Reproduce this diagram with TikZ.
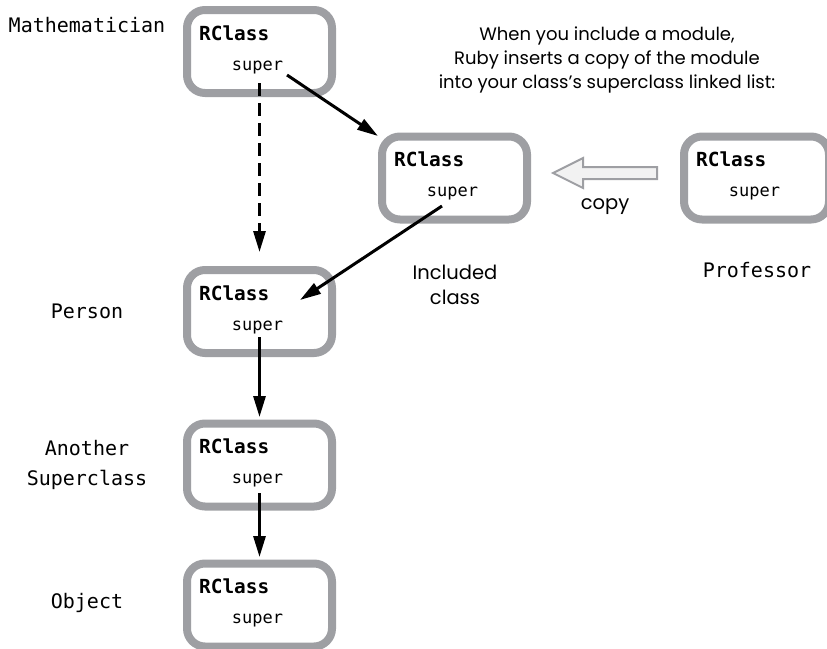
\documentclass[tikz,border=0pt]{standalone}
\usepackage{fontspec}
\setmonofont{DejaVu Sans Mono}
\newfontfamily\futura{Poppins}
\usepackage{tikz}
\usetikzlibrary{arrows.meta,calc}
\definecolor{boxgray}{RGB}{158,159,163}
\definecolor{arrowfill}{RGB}{242,242,242}
\tikzset{
  classbox/.style={draw=boxgray,line width=8pt,rounded corners=18pt,minimum width=145pt,minimum height=83pt,fill=white},
  rcname/.style={inner sep=0pt,font=\ttfamily\bfseries\fontsize{19.4}{22}\selectfont},
  rcsuper/.style={inner sep=0pt,font=\ttfamily\fontsize{17}{20}\selectfont},
  sidelabel/.style={inner sep=0pt,align=center,font=\ttfamily\fontsize{20}{30}\selectfont},
  note/.style={inner sep=0pt,align=center,font=\futura\fontsize{18}{24}\selectfont},
  bignote/.style={note,font=\futura\fontsize{19.5}{25}\selectfont},
  link/.style={line width=3pt,-{Triangle[length=21pt,width=12pt]}}
}
\begin{document}
\begin{tikzpicture}[x=1pt,y=-1pt]
            \useasboundingbox (0,0) rectangle (827,648);
            \clip (0,0) rectangle (827,648);
            % class boxes
            \foreach \nm/\px/\py in {math/259.5/51.5,incl/454.5/178,prof/756.5/178,person/259.5/311.5,another/259.5/465,object/259.5/605}{
                \node[classbox] (\nm) at (\px,\py) {};
                \node[rcname,anchor=base west] (\nm-r) at ($(\nm.north west)+(16,34)$) {RClass};
                \node[rcsuper,anchor=base] (\nm-s) at ($(\nm.north)+(-2,64)$) {super};
            }
            % labels
            \node[sidelabel] (lmath) at (87,25) {Mathematician};
            \node[sidelabel] (lperson) at (87,311) {Person};
            \node[sidelabel] (lanother) at (87,465) {Another\\Superclass};
            \node[sidelabel] (lobject) at (87,603) {Object};
            \node[sidelabel] (lprof) at (757,270) {Professor};
            \node[bignote,text depth=0pt] (lincl) at (455,285) {Included\\class};
            \node[bignote] (lcopy) at (605,207) {copy};
            \node[note] (intro) at (607,60) {When you include a module,\\Ruby inserts a copy of the module\\into your class’s superclass linked list:};
            % copy arrow
            \draw[draw=boxgray,fill=arrowfill,line width=2pt,line join=miter]
                (657,167) -- (583,167) -- (583,158) -- (553,173) -- (583,188) -- (583,179) -- (657,179) -- cycle;
            % super links
            \draw[link,dash pattern=on 13pt off 7pt] ($(math)+(0,31.5)$) -- ($(person)+(0,-59.5)$);
            \draw[link] ($(math)+(27.5,23.5)$) -- ($(incl)+(-76.5,-42)$);
            \draw[link] ($(incl)+(-12.5,28)$) -- ($(person)+(40.5,-11.5)$);
            \draw[link] ($(person)+(0,25.5)$) -- ($(another)+(0,-48)$);
            \draw[link] ($(another)+(0,28)$) -- ($(object)+(0,-48)$);
        \end{tikzpicture}
\end{document}
